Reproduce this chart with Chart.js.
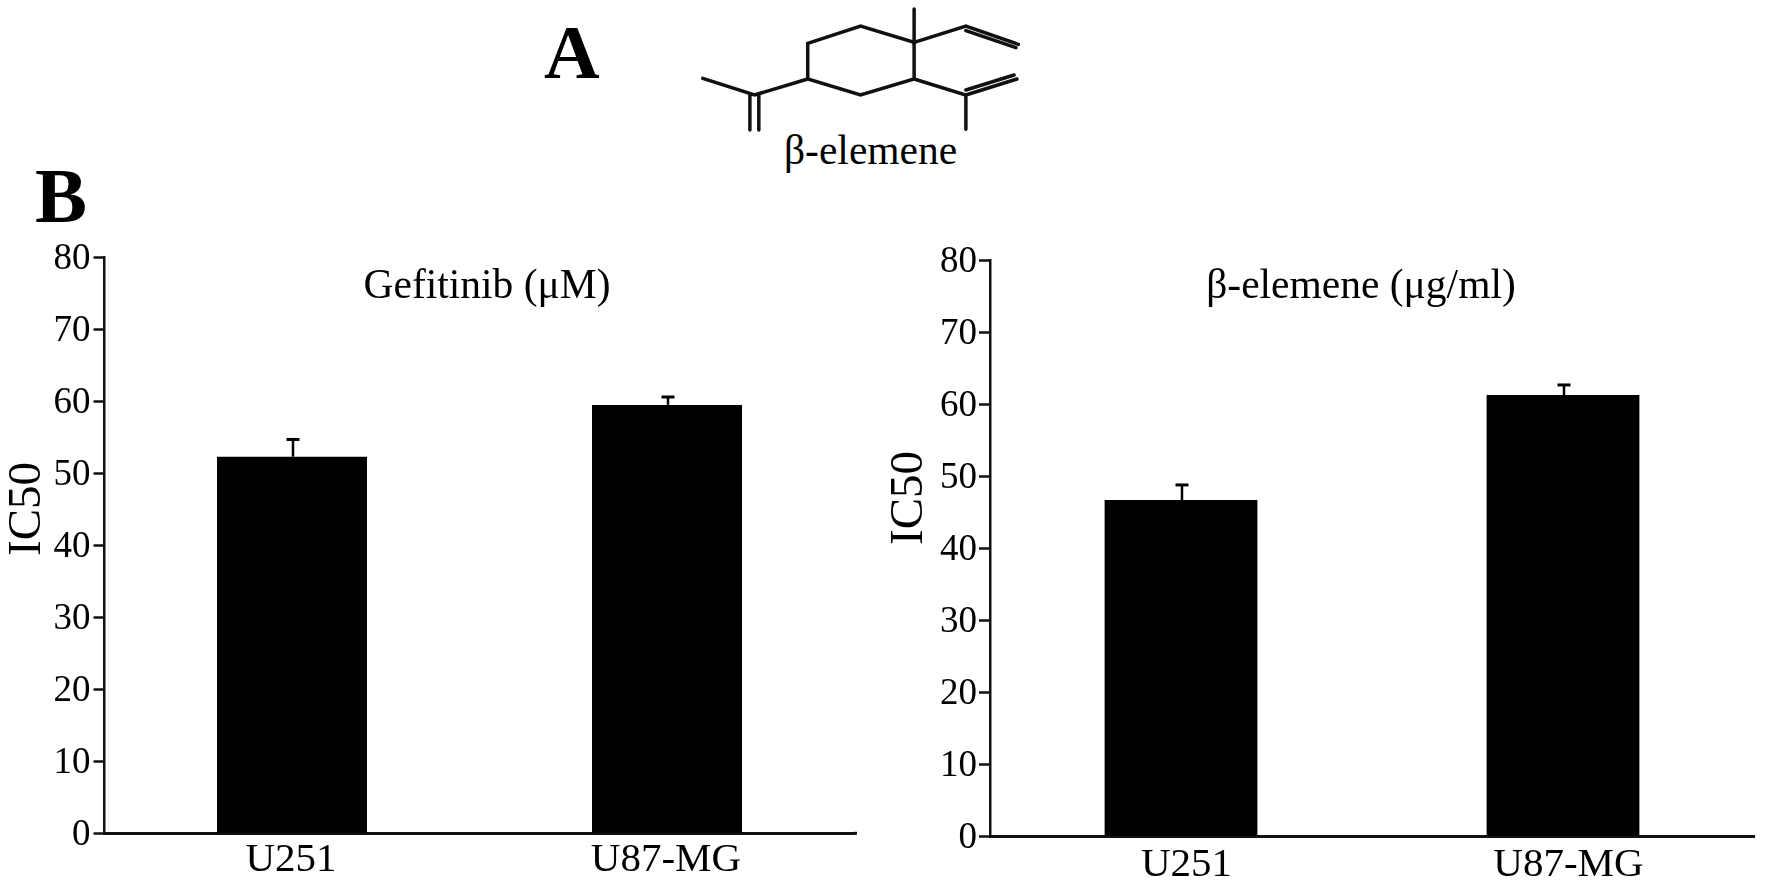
<!DOCTYPE html>
<html><head><meta charset="utf-8">
<style>
html,body{margin:0;padding:0;background:#fff;width:1769px;height:883px;overflow:hidden}
canvas{position:absolute;top:0}
#c1{left:0}
#c2{left:880px}
.t{position:absolute;font-family:"Liberation Serif",serif;color:#000;white-space:nowrap;line-height:1}
svg{position:absolute;left:0;top:0}
</style></head><body>
<div class="t" style="left:544px;top:14px;font-size:77px;font-weight:bold">A</div>
<div class="t" style="left:35px;top:157px;font-size:78px;font-weight:bold">B</div>
<div class="t" style="left:784px;top:130px;font-size:41.5px">β-elemene</div>
<svg width="1769" height="140">
<g transform="translate(500,0) scale(0.357,0.3333)" fill="none" stroke="#111" stroke-linecap="round">
<path vector-effect="non-scaling-stroke" stroke-width="3.5" d="M862 130L1010 78L1160 127L1160 237L1010 285L862 237Z"/>
<path vector-effect="non-scaling-stroke" stroke-width="3.5" d="M1160 27L1160 127L1305 78L1452 133M1305 92L1445 143"/>
<path vector-effect="non-scaling-stroke" stroke-width="3.5" d="M1160 237L1305 285L1305 388M1305 285L1448 237M1305 270L1440 225"/>
<path vector-effect="non-scaling-stroke" stroke-width="3.5" d="M568 235L713 285L862 237M700 285L700 390M725 285L725 390"/>
</g></svg>
<canvas id="c1" width="880" height="883" style="width:880px;height:883px"></canvas>
<canvas id="c2" width="889" height="883" style="width:889px;height:883px"></canvas>
<script src="https://cdn.jsdelivr.net/npm/chart.js@4"></script>
<script>
const categories = ["U251", "U87-MG"];
const yTicks = [0, 10, 20, 30, 40, 50, 60, 70, 80];
const gefitinibValues = [52.3, 59.5];
const gefitinibErrors = [2.4, 1.1];
const elemeneValues = [46.7, 61.3];
const elemeneErrors = [2.1, 1.4];
const gefitinibTitle = "Gefitinib (μM)";
const elemeneTitle = "β-elemene (μg/ml)";
const yLabel = "IC50";

const serif = '"Liberation Serif", serif';

const errorBars = {
  id: "errorBars",
  afterDatasetsDraw(chart, args, opts) {
    const {ctx, scales: {x, y}} = chart;
    ctx.save();
    ctx.strokeStyle = "#000";
    chart.data.datasets[0].data.forEach((v, i) => {
      const px = x.getPixelForValue(i) + 1;
      const top = y.getPixelForValue(v + opts.errors[i]);
      ctx.lineWidth = 2.5;
      ctx.beginPath();
      ctx.moveTo(px, y.getPixelForValue(v));
      ctx.lineTo(px, top);
      ctx.stroke();
      ctx.lineWidth = 3;
      ctx.beginPath();
      ctx.moveTo(px - 6.5, top);
      ctx.lineTo(px + 6.5, top);
      ctx.stroke();
    });
    ctx.restore();
  }
};

const panelText = {
  id: "panelText",
  afterDraw(chart, args, opts) {
    const {ctx, chartArea} = chart;
    ctx.save();
    if (opts.axisOverrun) {
      ctx.strokeStyle = "#111";
      ctx.lineWidth = 3;
      ctx.beginPath();
      ctx.moveTo(chartArea.right - 1, chartArea.bottom);
      ctx.lineTo(chartArea.right + opts.axisOverrun, chartArea.bottom);
      ctx.stroke();
    }
    ctx.fillStyle = "#000";
    ctx.textAlign = "center";
    ctx.textBaseline = "alphabetic";
    ctx.font = opts.titleSize + "px " + serif;
    ctx.fillText(opts.title, opts.titleX, opts.titleY);
    ctx.translate(opts.labelX, opts.labelY);
    ctx.rotate(-Math.PI / 2);
    ctx.font = "47px " + serif;
    ctx.fillText(yLabel, 0, 0);
    ctx.restore();
  }
};

function build(id, values, errors, title, p) {
  return new Chart(document.getElementById(id), {
    type: "bar",
    data: {
      labels: categories,
      datasets: [{
        data: values,
        backgroundColor: "#000",
        borderWidth: 0,
        categoryPercentage: 1,
        barPercentage: 0.4
      }]
    },
    plugins: [errorBars, panelText],
    options: {
      responsive: false,
      animation: false,
      devicePixelRatio: 1,
      layout: {padding: {left: 0, top: p.top, right: p.right, bottom: 0}},
      plugins: {
        legend: {display: false},
        tooltip: {enabled: false},
        title: {display: false},
        errorBars: {errors},
        panelText: {title, titleSize: 41.5, titleX: p.titleX, titleY: p.titleY, labelX: p.labelX, labelY: p.labelY, axisOverrun: p.overrun}
      },
      scales: {
        x: {
          type: "category",
          grid: {display: false},
          border: {display: true, color: "#111", width: 3},
          ticks: {
            color: "#000", autoSkip: false, maxRotation: 0, padding: p.xpad, labelOffset: p.xoff,
            font: {family: serif, size: 41}
          },
          afterFit(s) { s.height = p.xh; }
        },
        y: {
          type: "linear",
          min: yTicks[0],
          max: yTicks[yTicks.length - 1],
          afterBuildTicks(s) { s.ticks = yTicks.map(v => ({value: v})); },
          grid: {display: true, drawOnChartArea: false, drawTicks: true, tickLength: 11, tickWidth: 2.5, tickColor: "#111"},
          border: {display: true, color: "#111", width: 2.5},
          ticks: {
            color: "#000", padding: p.ypad, labelOffset: 2,
            font: {family: serif, size: 37}
          },
          afterFit(s) { s.width = p.yw; }
        }
      }
    }
  });
}

build("c1", gefitinibValues, gefitinibErrors, gefitinibTitle,
  {top: 257.3, right: 25.5, xh: 49.7, yw: 104.5, titleX: 487, titleY: 298, labelX: 40, labelY: 509,
   xpad: -6, xoff: -1, ypad: 3, overrun: 2.5});
build("c2", elemeneValues, elemeneErrors, elemeneTitle,
  {top: 260.5, right: 15, xh: 47, yw: 110, titleX: 481, titleY: 298, labelX: 41.7, labelY: 498,
   xpad: -3, xoff: 5.5, ypad: 2, overrun: 0});
</script>
</body></html>
